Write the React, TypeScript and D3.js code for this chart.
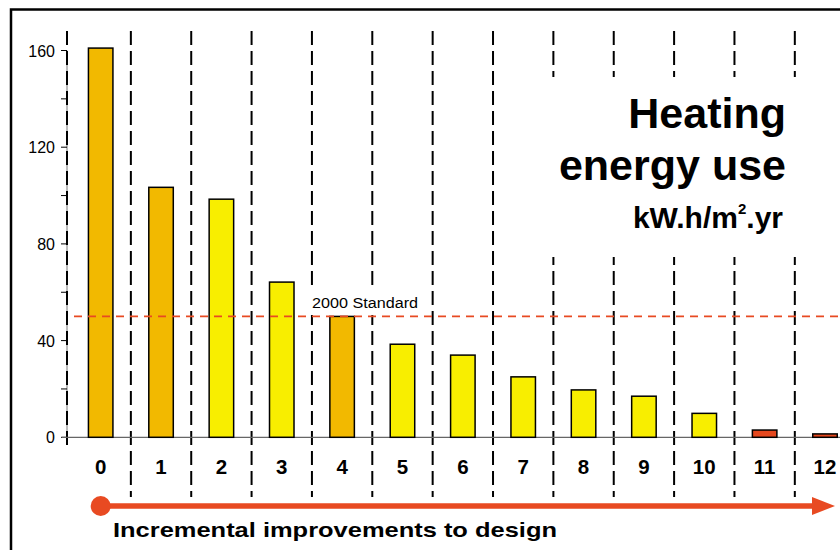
import * as d3 from "d3";

const categories = ["0", "1", "2", "3", "4", "5", "6", "7", "8", "9", "10", "11", "12"];
const values = [161, 103.4, 98.5, 64.2, 50, 38.5, 34, 25, 19.6, 17, 9.9, 3, 1.4];
const barKinds = ["gold", "gold", "yellow", "yellow", "gold", "yellow", "yellow", "yellow", "yellow", "yellow", "yellow", "red", "red"];
const majorTicks = [0, 40, 80, 120, 160];
const minorTicks = [20, 60, 100, 140];
const standardValue = 50;

const colors: Record<string, string> = {
  gold: "#F2B900",
  yellow: "#F8EE00",
  red: "#E5481E",
};
const accent = "#E84A22";

const W = 840;
const H = 550;

const App = () => {
  const x = d3
    .scaleBand<string>()
    .domain(categories)
    .range([70.5, 70.5 + 60.36 * categories.length])
    .padding(0);
  const y = d3.scaleLinear().domain([0, 160]).range([437.3, 50.5]);
  const barW = 24.5;
  const baseY = y(0);

  return (
    <svg
      width={W}
      height={H}
      style={{ position: "absolute", left: 0, top: 0, background: "#fff" }}
      fontFamily="Liberation Sans, Arial, sans-serif"
    >
      {/* frame */}
      <rect x={11} y={9.5} width={900} height={600} fill="none" stroke="#000" strokeWidth={2.5} />

      {/* vertical dashed separators */}
      {categories.slice(1).map((c) => (
        <line
          key={"g" + c}
          x1={x(c)!}
          x2={x(c)!}
          y1={31}
          y2={497}
          stroke="#000"
          strokeWidth={2}
          strokeDasharray="14,6"
        />
      ))}

      {/* y axis */}
      <line x1={67} x2={67} y1={y(160)} y2={baseY} stroke="#777" strokeWidth={1} />
      <line x1={67} x2={67} y1={31} y2={450} stroke="#000" strokeWidth={2} strokeDasharray="14,6" />
      {majorTicks.map((t) => (
        <g key={"t" + t}>
          <line x1={61} x2={67} y1={y(t)} y2={y(t)} stroke="#000" strokeWidth={1} />
          <text x={55} y={y(t) + 6} fontSize={16} textAnchor="end" fill="#000">
            {t}
          </text>
        </g>
      ))}
      {minorTicks.map((t) => (
        <line key={"m" + t} x1={61} x2={67} y1={y(t)} y2={y(t)} stroke="#000" strokeWidth={1} />
      ))}

      {/* baseline */}
      <line x1={62} x2={W} y1={baseY} y2={baseY} stroke="#666" strokeWidth={1.2} />

      {/* white backgrounds for labels */}
      <rect x={540} y={77} width={300} height={180} fill="#fff" />
      <rect x={305} y={286} width={120} height={29} fill="#fff" />

      {/* bars */}
      {categories.map((c, i) => (
        <rect
          key={"b" + c}
          x={x(c)! + x.bandwidth() / 2 - barW / 2}
          y={y(values[i])}
          width={barW}
          height={baseY - y(values[i])}
          fill={colors[barKinds[i]]}
          stroke="#000"
          strokeWidth={1.5}
        />
      ))}

      {/* standard line */}
      <line
        x1={74}
        x2={W}
        y1={y(standardValue)}
        y2={y(standardValue)}
        stroke={accent}
        strokeWidth={1.8}
        strokeDasharray="8,6"
      />
      <text x={312} y={308} fontSize={15.5} fill="#000" textLength={106} lengthAdjust="spacingAndGlyphs">
        2000 Standard
      </text>

      {/* category labels */}
      {categories.map((c) => (
        <text
          key={"l" + c}
          x={x(c)! + x.bandwidth() / 2}
          y={474}
          fontSize={20.5}
          fontWeight="bold"
          textAnchor="middle"
          fill="#000"
        >
          {c}
        </text>
      ))}

      {/* title */}
      <text x={786} y={128} fontSize={43} fontWeight="bold" textAnchor="end">
        Heating
      </text>
      <text x={786} y={180} fontSize={43} fontWeight="bold" textAnchor="end">
        energy use
      </text>
      <text x={783} y={228} fontSize={30} fontWeight="bold" textAnchor="end">
        kW.h/m
        <tspan fontSize={15} dy={-14}>2</tspan>
        <tspan dy={14}>.yr</tspan>
      </text>

      {/* improvement arrow */}
      <line x1={x("0")! + x.bandwidth() / 2} x2={814} y1={506} y2={506} stroke={accent} strokeWidth={5.5} />
      <circle cx={x("0")! + x.bandwidth() / 2} cy={506} r={10} fill={accent} />
      <path d="M812,497 L835,506 L812,515 Z" fill={accent} />
      <text x={113} y={537} fontSize={21} fontWeight="bold" textLength={444} lengthAdjust="spacingAndGlyphs">
        Incremental improvements to design
      </text>
    </svg>
  );
};

export default App;
